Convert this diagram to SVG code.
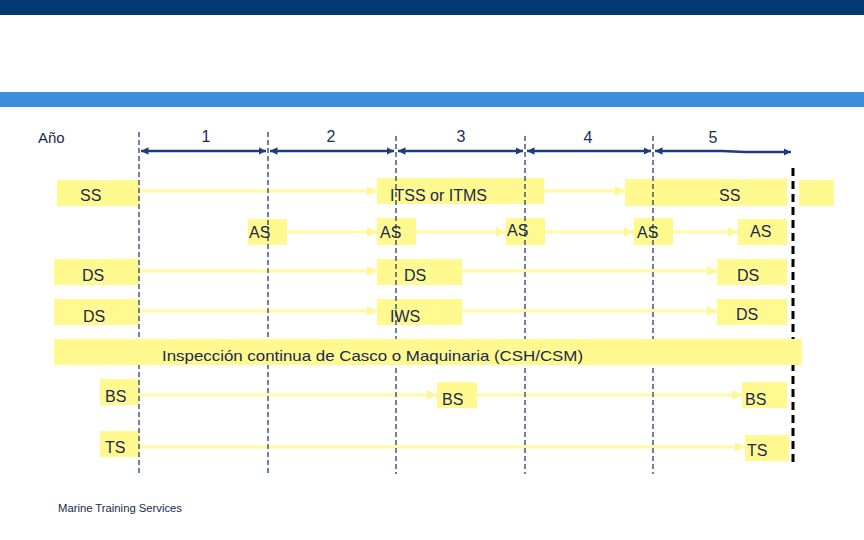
<svg xmlns="http://www.w3.org/2000/svg" width="864" height="540" viewBox="0 0 864 540">
<style>
.box{fill:#fff98f}
.lbl{font-family:"Liberation Sans",Arial,sans-serif;font-size:16px;fill:#172a4e}
.yr{font-family:"Liberation Sans",Arial,sans-serif;font-size:16px;fill:#1a2d5a;text-anchor:middle}
.guide{stroke:#1a2d5a;stroke-width:1.2;stroke-dasharray:5,3;fill:none}
.conn{stroke:#fffaa3;stroke-width:3;fill:none;marker-end:url(#ya)}
.span{stroke:#1f3b7b;stroke-width:2.5;fill:none;marker-start:url(#na);marker-end:url(#na)}
</style>
<defs>
<marker id="ya" viewBox="0 0 10 10" refX="10" refY="5" markerWidth="3.5" markerHeight="3.5" orient="auto" markerUnits="strokeWidth"><path d="M0,0 L10,5 L0,10 z" fill="#fff69a"/></marker>
<marker id="na" viewBox="0 0 10 10" refX="10" refY="5" markerWidth="3" markerHeight="3" orient="auto-start-reverse" markerUnits="strokeWidth"><path d="M0,0 L10,5 L0,10 z" fill="#1f3b7b"/></marker>
</defs>
<rect x="0" y="0" width="864" height="15" fill="#003a70"/>
<rect x="0" y="92" width="864" height="15" fill="#3e8fdb"/>

<g id="timeline">
<text x="38" y="143" class="lbl" style="font-size:15px">Año</text>
<text x="206" y="142" class="yr">1</text>
<text x="331" y="142" class="yr">2</text>
<text x="461" y="142" class="yr">3</text>
<text x="588" y="143" class="yr">4</text>
<text x="713" y="143" class="yr">5</text>
<line class="span" x1="141" y1="151" x2="266" y2="151"/>
<line class="span" x1="270" y1="151" x2="394" y2="151"/>
<line class="span" x1="398" y1="151" x2="523" y2="151"/>
<line class="span" x1="527" y1="151" x2="651" y2="151"/>
<path class="span" d="M655,151 H722 L745,152 H791"/>
</g>

<g id="connectors">
<line class="conn" x1="139" y1="191" x2="377" y2="191"/>
<line class="conn" x1="544" y1="191" x2="625" y2="191"/>
<line class="conn" x1="287" y1="232" x2="377" y2="232"/>
<line class="conn" x1="416" y1="232" x2="506" y2="232"/>
<line class="conn" x1="545" y1="232" x2="634" y2="232"/>
<line class="conn" x1="673" y1="232" x2="738" y2="232"/>
<line class="conn" x1="139" y1="271" x2="377" y2="271"/>
<line class="conn" x1="462" y1="271" x2="717" y2="271"/>
<line class="conn" x1="139" y1="311" x2="377" y2="311"/>
<line class="conn" x1="462" y1="311" x2="717" y2="311"/>
<line class="conn" x1="139" y1="395" x2="437" y2="395"/>
<line class="conn" x1="477" y1="395" x2="742" y2="395"/>
<line class="conn" x1="139" y1="447" x2="745" y2="447"/>
</g>

<g id="ss1"><rect class="box" x="57" y="180" width="82" height="26"/><text class="lbl" x="80" y="201">SS</text></g>
<g id="itss"><rect class="box" x="377" y="178" width="167" height="26"/><text class="lbl" x="390" y="201">ITSS or ITMS</text></g>
<g id="ss2"><rect class="box" x="625" y="179" width="162" height="27"/><text class="lbl" x="719" y="201">SS</text></g>
<g id="ss3"><rect class="box" x="799" y="180" width="35" height="26"/></g>

<g id="as1"><rect class="box" x="248" y="219" width="39" height="26"/><text class="lbl" x="249" y="238">AS</text></g>
<g id="as2"><rect class="box" x="377" y="218" width="39" height="27"/><text class="lbl" x="380" y="238">AS</text></g>
<g id="as3"><rect class="box" x="506" y="218" width="39" height="27"/><text class="lbl" x="507" y="236">AS</text></g>
<g id="as4"><rect class="box" x="634" y="218" width="39" height="27"/><text class="lbl" x="637" y="238">AS</text></g>
<g id="as5"><rect class="box" x="738" y="219" width="49" height="26"/><text class="lbl" x="750" y="237">AS</text></g>

<g id="ds1"><rect class="box" x="54" y="259" width="85" height="26"/><text class="lbl" x="82" y="281">DS</text></g>
<g id="ds2"><rect class="box" x="377" y="259" width="85" height="26"/><text class="lbl" x="404" y="281">DS</text></g>
<g id="ds3"><rect class="box" x="717" y="259" width="70" height="26"/><text class="lbl" x="737" y="281">DS</text></g>

<g id="ds4"><rect class="box" x="54" y="299" width="85" height="26"/><text class="lbl" x="83" y="322">DS</text></g>
<g id="iws"><rect class="box" x="377" y="299" width="85" height="26"/><text class="lbl" x="390" y="322">IWS</text></g>
<g id="ds5"><rect class="box" x="717" y="299" width="70" height="26"/><text class="lbl" x="736" y="320">DS</text></g>

<g id="bs1"><rect class="box" x="100" y="379" width="39" height="26"/><text class="lbl" x="105" y="402">BS</text></g>
<g id="bs2"><rect class="box" x="437" y="382" width="40" height="26"/><text class="lbl" x="442" y="405">BS</text></g>
<g id="bs3"><rect class="box" x="742" y="382" width="45" height="26"/><text class="lbl" x="745" y="405">BS</text></g>

<g id="ts1"><rect class="box" x="100" y="431" width="39" height="26"/><text class="lbl" x="105" y="453">TS</text></g>
<g id="ts2"><rect class="box" x="745" y="435" width="44" height="26"/><text class="lbl" x="747" y="456">TS</text></g>

<g id="guides">
<line class="guide" x1="139" y1="132" x2="139" y2="474"/>
<line class="guide" x1="268" y1="132" x2="268" y2="474"/>
<line class="guide" x1="396" y1="136" x2="396" y2="474"/>
<line class="guide" x1="525" y1="136" x2="525" y2="474"/>
<line class="guide" x1="653" y1="136" x2="653" y2="474"/>
<line x1="793" y1="168" x2="793" y2="463" stroke="#000" stroke-width="3" stroke-dasharray="8,5"/>
</g>

<g id="csh"><rect class="box" x="54" y="339" width="748" height="26"/><text class="lbl" x="162" y="361" style="font-size:15px" textLength="421" lengthAdjust="spacingAndGlyphs">Inspección continua de Casco o Maquinaria (CSH/CSM)</text></g>

<text x="58" y="512" font-family="'Liberation Sans',Arial,sans-serif" font-size="10" fill="#172a4e" textLength="124" lengthAdjust="spacingAndGlyphs">Marine Training Services</text>
</svg>
